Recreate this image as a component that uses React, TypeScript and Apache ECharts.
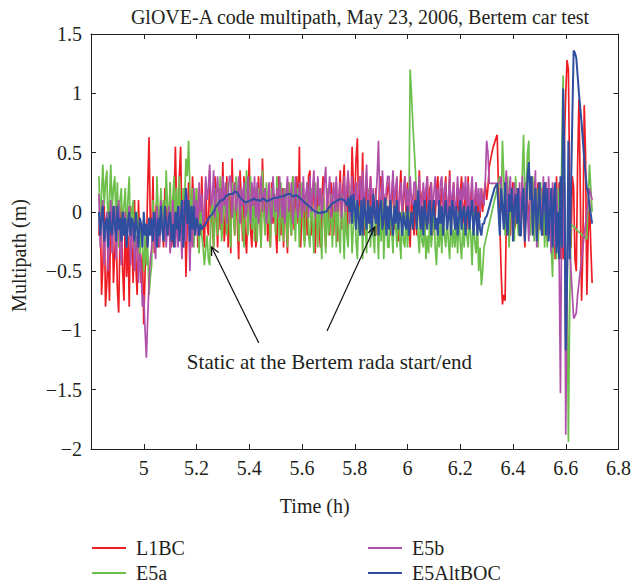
import React, { useEffect, useRef } from 'react';
import * as echarts from 'echarts';

const FONT = 'Liberation Serif, DejaVu Serif, serif';
const INK = '#231f20';

const TITLE = 'GlOVE-A code multipath, May 23, 2006, Bertem car test';
const X_NAME = 'Time (h)';
const Y_NAME = 'Multipath (m)';
const NOTE = 'Static at the Bertem rada start/end';

const SERIES_NAMES = ['L1BC', 'E5a', 'E5b', 'E5AltBOC'];
const SERIES_COLORS = ['#ee1d24', '#6cbf4a', '#b04fa9', '#2f4ea0'];
const SERIES_WIDTHS = [1.7, 1.7, 1.7, 2];

// sampling of the time axis (hours): 4.830, 4.835, ... 6.700
const T_START = 4.83;
const T_STEP = 0.005;

const l1bc = [
  -0.2, 0.1, -0.7, -0.45, 0.05, -0.8, -0.6, -0.3, -0.75, 0.0,
  0.1, -0.6, -0.35, -0.1, -0.65, -0.85, -0.2, 0.05, -0.5, -0.75,
  0.0, -0.55, -0.2, -0.8, 0.05, -0.3, -0.6, 0.1, -0.45, -0.7,
  0.1, -0.25, -0.6, -0.35, -0.95, -0.5, -0.3, 0.2, 0.63, -0.1,
  -0.2, 0.3, -0.35, 0.0, 0.1, -0.3, -0.25, 0.15, -0.1, -0.3,
  0.2, -0.15, 0.05, -0.2, 0.25, -0.3, -0.2, 0.1, 0.55, 0.0,
  -0.1, 0.3, 0.55, -0.2, -0.3, 0.2, -0.55, -0.1, 0.25, -0.35,
  -0.2, 0.3, 0.0, -0.15, 0.2, -0.3, 0.1, -0.2, 0.3, -0.1,
  -0.3, 0.25, -0.1, -0.2, 0.35, 0.0, -0.1, -0.3, 0.3, 0.1,
  -0.3, 0.2, -0.15, 0.05, 0.42, -0.25, -0.1, 0.3, -0.3, 0.15,
  -0.35, 0.45, 0.0, -0.2, 0.25, -0.1, -0.4, 0.35, 0.1, -0.25,
  0.3, -0.2, -0.35, 0.1, 0.45, -0.15, -0.3, 0.2, 0.05, -0.3,
  -0.2, 0.3, 0.0, -0.3, 0.45, 0.1, -0.1, 0.2, -0.25, 0.0,
  -0.3, 0.25, -0.1, 0.15, -0.15, -0.35, 0.3, 0.0, -0.2, 0.2,
  -0.3, 0.2, -0.1, -0.35, 0.25, 0.05, -0.2, 0.3, -0.15, 0.1,
  0.3, -0.1, 0.55, -0.3, 0.0, 0.2, -0.25, 0.1, -0.2, 0.3,
  0.35, -0.2, 0.1, 0.3, -0.35, 0.0, 0.25, -0.15, -0.3, 0.1,
  0.3, -0.1, -0.3, 0.2, 0.0, -0.2, 0.25, 0.1, -0.2, 0.15,
  0.25, -0.25, 0.1, 0.35, -0.15, 0.2, 0.4, -0.1, -0.2, 0.3,
  0.15, -0.05, 0.55, 0.2, 0.1, 0.45, 0.62, -0.1, 0.3, 0.0,
  0.5, -0.2, 0.1, 0.25, -0.1, 0.0, 0.3, -0.15, 0.1, -0.05,
  0.2, -0.2, 0.0, 0.25, 0.3, -0.1, 0.15, -0.15, 0.1, 0.2,
  0.25, -0.2, 0.1, 0.3, -0.15, 0.0, 0.2, -0.25, 0.15, 0.35,
  -0.1, 0.1, 0.3, -0.05, 0.25, 0.0, -0.3, 0.15, 0.05, -0.2,
  0.2, -0.2, 0.05, 0.35, -0.1, 0.15, 0.2, -0.15, 0.0, 0.3,
  -0.1, 0.2, 0.25, -0.2, 0.1, -0.05, 0.2, 0.3, -0.1, 0.1,
  0.2, -0.15, 0.1, 0.3, -0.1, 0.05, 0.35, -0.2, 0.1, 0.25,
  -0.15, 0.0, 0.2, -0.1, 0.15, 0.3, -0.1, 0.05, 0.2, -0.15,
  0.3, -0.15, 0.1, 0.2, -0.2, 0.05, 0.25, -0.1, 0.15, -0.05,
  0.2, 0.0, 0.15, 0.25, 0.1, 0.2, 0.38, 0.44, 0.5, 0.55,
  0.58, 0.62, 0.65, 0.2, -0.1, -0.5, -0.78, -0.7, -0.75, 0.0,
  0.2, -0.1, -0.2, 0.15, 0.25, -0.15, -0.1, 0.1, 0.2, -0.1,
  -0.15, 0.25, 0.0, -0.3, 0.2, 0.05, -0.1, 0.3, 0.1, -0.2,
  0.25, -0.05, 0.1, 0.25, -0.15, 0.0, 0.2, -0.2, 0.1, 0.25,
  -0.25, 0.15, -0.05, -0.3, 0.2, 0.0, -0.4, 0.3, -0.2, 0.25,
  -0.4, 0.1, -0.4, 0.6, 1.0, 1.28, 1.2, 0.2, -0.3, 0.3,
  0.2, -0.4, -0.5, 0.4, 0.95, 0.2, -0.75, -0.3, 0.9, 0.5,
  -0.7, -0.2, 0.1, -0.3, -0.6,
];

const e5a = [
  0.3, -0.1, 0.15, 0.4, 0.05, 0.25, 0.35, -0.2, 0.1, 0.4,
  0.0, 0.2, 0.3, -0.1, 0.25, -0.3, 0.1, 0.2, -0.2, 0.05,
  0.2, -0.25, 0.1, 0.3, -0.3, 0.0, 0.1, -0.35, -0.1, 0.0,
  -0.2, -0.4, -0.1, -0.3, -0.5, -0.2, -0.45, -0.3, -0.7, -0.55,
  -0.45, 0.1, -0.2, -0.3, 0.3, 0.0, -0.2, 0.2, -0.1, 0.1,
  -0.25, 0.35, 0.05, -0.1, 0.25, -0.2, 0.1, 0.3, -0.15, 0.2,
  -0.2, 0.3, 0.0, -0.1, 0.2, 0.1, 0.45, 0.3, 0.6, 0.2,
  -0.1, 0.2, -0.3, 0.0, 0.2, -0.1, -0.35, 0.1, -0.2, -0.3,
  -0.45, -0.3, -0.2, -0.4, -0.45, 0.0, 0.1, -0.3, -0.1, 0.2,
  -0.2, 0.05, 0.3, -0.25, -0.1, 0.2, 0.0, -0.2, 0.25, -0.1,
  -0.3, 0.25, 0.0, -0.2, 0.3, 0.1, -0.25, -0.05, 0.2, -0.1,
  -0.3, 0.15, 0.35, -0.2, 0.0, 0.3, -0.15, 0.1, -0.25, 0.2,
  -0.25, 0.2, -0.05, -0.3, 0.35, 0.0, -0.2, 0.25, -0.1, 0.1,
  -0.3, 0.2, -0.05, 0.15, -0.2, 0.3, 0.0, -0.25, 0.25, -0.1,
  -0.25, 0.2, 0.0, -0.3, 0.25, -0.1, -0.2, 0.3, 0.05, -0.25,
  0.1, 0.2, -0.3, 0.0, 0.25, -0.15, -0.3, 0.1, 0.25, -0.2,
  -0.3, 0.2, -0.1, -0.35, 0.25, 0.0, -0.3, 0.2, -0.15, -0.4,
  0.15, 0.0, -0.35, 0.2, -0.2, -0.1, 0.15, -0.3, -0.05, 0.2,
  -0.3, 0.1, -0.15, -0.35, 0.15, -0.05, -0.4, 0.1, -0.2, -0.3,
  0.2, 0.0, -0.35, -0.1, 0.1, -0.25, -0.4, 0.05, -0.2, 0.1,
  -0.4, 0.15, -0.1, -0.35, 0.2, -0.05, -0.3, 0.1, -0.2, -0.35,
  0.15, -0.1, -0.4, 0.05, -0.25, 0.1, -0.4, -0.1, 0.1, -0.3,
  -0.3, 0.1, -0.15, -0.35, 0.15, -0.1, -0.3, 0.1, -0.2, -0.4,
  0.05, -0.25, -0.3, 0.0, -0.3, -0.1, 1.2, 1.0, 0.75, 0.55,
  0.35, 0.1, -0.2, -0.35, 0.0, -0.25, -0.3, -0.05, -0.4, -0.2,
  -0.35, 0.0, -0.3, -0.15, 0.05, -0.3, -0.45, -0.1, -0.3, -0.05,
  -0.35, 0.0, -0.2, -0.3, -0.05, -0.25, -0.4, 0.05, -0.3, -0.15,
  -0.3, -0.05, -0.35, 0.0, -0.25, -0.4, -0.1, -0.3, 0.0, -0.2,
  -0.3, -0.05, -0.2, -0.45, 0.0, -0.25, -0.35, -0.1, -0.5, -0.3,
  -0.62, -0.5, -0.3, -0.25, -0.2, -0.15, -0.1, -0.05, 0.0, 0.05,
  0.1, 0.15, 0.2, 0.25, 0.3, 0.0, 0.6, 0.3, -0.2, 0.1,
  0.3, -0.3, 0.0, 0.2, -0.1, -0.25, 0.3, 0.0, -0.2, 0.15,
  -0.2, 0.3, 0.65, 0.1, 0.2, 0.5, 0.6, -0.2, 0.0, 0.3,
  -0.25, 0.1, 0.2, -0.3, 0.0, 0.25, -0.2, 0.1, -0.3, 0.2,
  -0.3, 0.2, 0.0, -0.3, -0.55, 0.1, -0.2, -0.4, 0.2, 0.0,
  -0.3, 0.5, 1.15, 0.2, -1.0, -0.5, -1.94, -0.8, -0.1, -0.12,
  -0.12, -0.13, -0.15, -0.16, -0.17, -0.18, -0.19, -0.2, -0.21, -0.22,
  -0.23, 0.1, 0.4, 0.2, 0.0,
];

const e5b = [
  0.15, -0.3, 0.0, 0.1, -0.45, -0.1, 0.0, -0.5, -0.2, 0.1,
  -0.35, 0.0, 0.05, -0.4, -0.15, 0.1, -0.3, -0.45, 0.0, -0.2,
  0.0, -0.3, -0.1, 0.05, -0.45, -0.2, -0.1, -0.5, -0.3, -0.2,
  -0.6, -0.35, -0.5, -0.8, -0.7, -1.0, -1.23, -0.9, -0.6, -0.4,
  -0.3, 0.0, -0.2, -0.4, 0.05, -0.15, -0.3, 0.1, -0.1, -0.25,
  0.0, -0.3, -0.1, 0.05, -0.35, -0.2, 0.1, -0.1, -0.3, 0.0,
  -0.3, 0.05, -0.15, -0.4, 0.1, -0.1, -0.25, 0.15, -0.05, -0.5,
  0.0, -0.3, 0.2, -0.1, 0.1, -0.2, 0.25, 0.0, 0.15, -0.1,
  -0.05, 0.3, 0.1, 0.2, 0.4, 0.05, 0.1, 0.35, -0.05, 0.15,
  0.3, 0.0, 0.2, -0.1, 0.3, 0.05, 0.25, -0.1, 0.15, 0.3,
  0.3, -0.05, 0.15, 0.25, 0.0, 0.1, 0.3, -0.1, 0.2, 0.05,
  0.25, -0.05, 0.0, 0.3, 0.1, -0.1, 0.25, 0.05, 0.3, -0.05,
  0.25, -0.1, 0.1, 0.3, 0.0, 0.15, 0.2, -0.1, 0.05, 0.25,
  0.0, -0.1, 0.3, 0.1, 0.0, 0.2, -0.05, 0.3, 0.1, -0.05,
  0.2, -0.1, 0.15, 0.3, 0.0, 0.1, 0.25, -0.1, 0.05, 0.3,
  0.05, -0.05, 0.25, 0.1, -0.05, 0.3, 0.0, 0.15, 0.25, -0.05,
  0.3, 0.0, 0.15, 0.35, -0.05, 0.1, 0.3, 0.05, 0.2, -0.05,
  0.1, 0.25, 0.38, 0.0, 0.15, 0.3, -0.05, 0.1, 0.25, 0.0,
  0.3, 0.0, 0.15, 0.25, -0.05, 0.1, 0.3, 0.0, 0.2, 0.35,
  -0.1, 0.1, 0.3, 0.0, 0.15, 0.25, -0.05, 0.2, 0.3, 0.05,
  0.35, -0.05, 0.2, 0.4, 0.0, 0.15, 0.3, 0.05, 0.2, -0.05,
  0.1, 0.3, 0.6, 0.1, 0.0, 0.35, 0.1, -0.05, 0.2, 0.3,
  0.3, 0.0, 0.15, 0.35, 0.05, 0.2, 0.3, -0.05, 0.1, 0.25,
  0.0, 0.15, 0.3, 0.05, 0.2, 0.0, 0.3, 0.1, 0.05, 0.25,
  0.25, 0.0, 0.15, 0.3, -0.05, 0.1, 0.25, 0.05, 0.2, 0.3,
  -0.1, 0.1, 0.25, 0.0, 0.15, 0.3, 0.05, 0.2, 0.0, 0.25,
  0.3, 0.0, 0.2, 0.25, -0.05, 0.1, 0.3, 0.0, 0.15, 0.25,
  -0.05, 0.1, 0.3, 0.05, 0.2, 0.0, 0.25, 0.1, 0.3, 0.0,
  0.25, -0.05, 0.15, 0.3, 0.0, 0.1, 0.25, 0.05, 0.2, 0.0,
  0.2, 0.1, 0.05, 0.25, 0.6, 0.5, 0.24, 0.24, 0.24, 0.24,
  0.24, 0.24, 0.24, 0.24, 0.24, 0.3, 0.0, -0.1, 0.2, 0.35,
  -0.05, 0.15, 0.3, 0.0, 0.1, 0.25, -0.05, 0.2, 0.0, 0.25,
  -0.1, 0.3, 0.1, -0.15, 0.25, 0.0, -0.25, 0.2, 0.3, -0.1,
  0.1, 0.35, -0.3, 0.0, 0.25, 0.1, -0.2, 0.3, 0.0, 0.25,
  -0.2, 0.3, 0.0, -0.35, 0.25, 0.1, -0.3, 0.2, -0.1, -0.4,
  -1.53, 0.2, -0.3, 0.25, -1.88, -0.6, 0.0, -0.3, -0.5, -0.7,
  -0.9, -0.88, -0.85, -0.7, -0.6, -0.5, -0.4, -0.3, -0.2, -0.1,
  0.0, 0.1, 0.2, 0.15, 0.1,
];

const e5altboc = [
  0.0, -0.2, -0.05, 0.05, -0.25, -0.1, -0.05, -0.3, 0.0, -0.15,
  -0.2, 0.05, -0.1, -0.25, 0.05, -0.15, -0.05, -0.25, 0.0, -0.2,
  -0.05, -0.3, -0.1, 0.0, -0.2, -0.05, -0.1, -0.25, 0.0, -0.15,
  -0.3, -0.05, -0.1, -0.3, 0.0, -0.2, -0.1, -0.3, -0.05, -0.2,
  -0.05, -0.25, 0.0, -0.1, -0.3, -0.05, -0.2, 0.05, -0.15, -0.25,
  0.05, -0.1, -0.2, -0.05, 0.0, -0.25, -0.1, -0.3, 0.0, -0.15,
  0.05, -0.25, -0.05, 0.1, -0.3, 0.0, 0.2, -0.1, 0.1, -0.25,
  0.05, -0.15, 0.05, -0.2, -0.05, -0.1, -0.2, -0.1, -0.15, -0.12,
  -0.12, -0.1, -0.08, -0.06, -0.04, -0.03, -0.02, 0.0, 0.03, 0.05,
  0.06, 0.08, 0.09, 0.1, 0.1, 0.11, 0.13, 0.14, 0.14, 0.15,
  0.15, 0.15, 0.16, 0.17, 0.17, 0.16, 0.14, 0.12, 0.11, 0.1,
  0.09, 0.08, 0.08, 0.09, 0.09, 0.1, 0.1, 0.11, 0.11, 0.1,
  0.1, 0.1, 0.09, 0.1, 0.11, 0.11, 0.1, 0.09, 0.09, 0.1,
  0.1, 0.11, 0.11, 0.12, 0.12, 0.12, 0.12, 0.13, 0.13, 0.13,
  0.13, 0.14, 0.14, 0.15, 0.15, 0.15, 0.14, 0.13, 0.13, 0.14,
  0.14, 0.13, 0.12, 0.11, 0.1, 0.09, 0.08, 0.07, 0.06, 0.05,
  0.04, 0.03, 0.02, 0.01, 0.0, 0.0, -0.01, -0.01, -0.01, 0.0,
  -0.01, 0.0, 0.0, 0.01, 0.03, 0.04, 0.06, 0.07, 0.08, 0.08,
  0.09, 0.1, 0.1, 0.11, 0.11, 0.1, 0.1, 0.08, 0.05, 0.12,
  0.0, 0.14, -0.1, 0.15, 0.05, -0.15, 0.1, -0.05, -0.2, 0.1,
  -0.2, 0.12, 0.0, -0.15, 0.1, -0.1, 0.05, -0.2, 0.15, 0.0,
  -0.1, 0.1, -0.2, 0.05, 0.1, -0.15, -0.05, 0.12, -0.2, 0.05,
  -0.15, 0.1, -0.05, -0.2, 0.05, -0.1, 0.1, -0.15, 0.0, -0.05,
  -0.2, 0.0, -0.1, -0.15, 0.05, -0.2, -0.1, 0.0, -0.15, 0.05,
  0.1, -0.15, 0.18, 0.0, -0.15, 0.05, -0.2, 0.1, -0.05, -0.15,
  0.05, 0.1, -0.2, 0.0, 0.1, -0.15, -0.05, -0.2, 0.1, -0.1,
  0.05, -0.2, 0.0, 0.1, -0.15, -0.05, 0.05, -0.2, 0.1, 0.0,
  -0.15, 0.05, -0.2, -0.05, 0.1, -0.15, 0.0, 0.05, -0.2, 0.0,
  0.05, -0.15, 0.0, 0.1, -0.2, -0.05, 0.05, -0.2, 0.0, -0.15,
  -0.2, -0.1, -0.1, -0.05, -0.04, 0.0, 0.04, 0.08, 0.12, 0.16,
  0.2, 0.22, 0.24, 0.0, -0.2, 0.2, 0.05, -0.15, 0.25, -0.1,
  -0.2, 0.15, 0.0, 0.2, -0.25, 0.05, 0.15, -0.1, 0.2, -0.2,
  -0.2, 0.1, 0.2, -0.25, 0.0, 0.3, 0.42, 0.1, 0.3, -0.2,
  0.05, 0.2, -0.25, 0.0, 0.25, -0.1, -0.2, 0.15, 0.25, -0.2,
  0.2, -0.25, 0.0, 0.2, -0.3, 0.1, 0.25, -0.35, 0.0, -0.4,
  0.3, -0.3, 1.04, 0.5, -1.17, -0.6, 0.6, -0.4, 0.2, 0.8,
  1.36, 1.34, 1.3, 1.15, 1.0, 0.88, 0.75, 0.6, 0.45, 0.32,
  0.2, 0.16, 0.05, -0.02, -0.1,
];

const SERIES_VALUES = [l1bc, e5a, e5b, e5altboc];

// annotation anchor points, in data coordinates [hours, metres]
const NOTE_AT = [5.704, -1.266];
const ARROWS = [
  { from: [5.436, -1.105], to: [5.257, -0.296] },
  { from: [5.695, -1.004], to: [5.876, -0.128] },
];

const X_MIN = 4.8, X_MAX = 6.8, X_STEP = 0.2;
const Y_MIN = -2, Y_MAX = 1.5, Y_STEP = 0.5;

const times = l1bc.map((_, i) => Math.round((T_START + i * T_STEP) * 1000) / 1000);

function fmtY(v: number) {
  const s = String(Math.abs(v));
  return v < 0 ? '\u2212' + s : s;
}

function arrowEls(chart: any, from: number[], to: number[]) {
  const a = chart.convertToPixel({ gridIndex: 0 }, from);
  const b = chart.convertToPixel({ gridIndex: 0 }, to);
  const dx = a[0] - b[0];
  const dy = a[1] - b[1];
  const L = Math.hypot(dx, dy);
  const ux = dx / L, uy = dy / L;
  const len = 9, c = Math.cos(0.44), s = Math.sin(0.44);
  const p1 = [b[0] + len * (ux * c - uy * s), b[1] + len * (ux * s + uy * c)];
  const p2 = [b[0] + len * (ux * c + uy * s), b[1] + len * (-ux * s + uy * c)];
  return [
    { type: 'line', z: 100, shape: { x1: a[0], y1: a[1], x2: b[0], y2: b[1] }, style: { stroke: '#111', lineWidth: 1.2 } },
    { type: 'polyline', z: 100, shape: { points: [p1, b, p2] }, style: { stroke: '#111', fill: null, lineWidth: 1.2 } },
  ];
}

export default function App() {
  const ref = useRef<HTMLDivElement>(null);
  useEffect(() => {
    if (!ref.current) return;
    const chart = echarts.init(ref.current, undefined, { renderer: 'svg' });
    const text = { fontFamily: FONT, fontSize: 20, color: INK };
    const legendBase = {
      orient: 'vertical',
      top: 538,
      icon: 'rect',
      itemWidth: 34,
      itemHeight: 2,
      itemGap: 5,
      padding: 0,
      textStyle: { ...text, lineHeight: 20, padding: [0, 0, 0, 5] },
    };
    const axisLine = { show: true, onZero: false, lineStyle: { color: INK, width: 1 } };
    const axisTick = { show: true, inside: true, length: 5, lineStyle: { color: INK, width: 1 } };
    const option: any = {
      animation: false,
      backgroundColor: '#fff',
      title: {
        text: TITLE,
        left: 355,
        top: 2,
        textAlign: 'center',
        textStyle: { ...text, fontWeight: 'normal' },
      },
      grid: { left: 91, right: 14, top: 34, bottom: 138 },
      legend: [
        { ...legendBase, left: 92, data: SERIES_NAMES.slice(0, 2) },
        { ...legendBase, left: 368, data: SERIES_NAMES.slice(2, 4) },
      ],
      xAxis: [
        {
          type: 'value', min: X_MIN, max: X_MAX, interval: X_STEP, position: 'bottom',
          axisLine, axisTick, splitLine: { show: false },
          axisLabel: {
            ...text, margin: 9,
            formatter: (v: number) => (Math.abs(v - X_MIN) < 1e-6 ? '' : String(Math.round(v * 10) / 10)),
          },
          name: X_NAME, nameLocation: 'middle', nameGap: 47,
          nameTextStyle: { ...text, padding: [0, 80, 0, 0] },
        },
        {
          type: 'value', min: X_MIN, max: X_MAX, interval: X_STEP, position: 'top',
          axisLine, axisTick, splitLine: { show: false }, axisLabel: { show: false },
        },
      ],
      yAxis: [
        {
          type: 'value', min: Y_MIN, max: Y_MAX, interval: Y_STEP, position: 'left',
          axisLine, axisTick, splitLine: { show: false },
          axisLabel: { ...text, margin: 9, formatter: fmtY },
          name: Y_NAME, nameLocation: 'middle', nameGap: 62,
          nameTextStyle: { ...text, padding: [0, 28, 0, 0] },
        },
        {
          type: 'value', min: Y_MIN, max: Y_MAX, interval: Y_STEP, position: 'right',
          axisLine, axisTick, splitLine: { show: false }, axisLabel: { show: false },
        },
      ],
      series: SERIES_NAMES.map((name, k) => ({
        name,
        type: 'line',
        xAxisIndex: 0,
        yAxisIndex: 0,
        symbol: 'none',
        showSymbol: false,
        clip: true,
        lineStyle: { width: SERIES_WIDTHS[k], color: SERIES_COLORS[k] },
        itemStyle: { color: SERIES_COLORS[k] },
        data: times.map((t, i) => [t, SERIES_VALUES[k][i]]),
      })),
    };
    chart.setOption(option);
    const notePx = chart.convertToPixel({ gridIndex: 0 }, NOTE_AT) as number[];
    const graphics: any[] = [];
    ARROWS.forEach((a) => graphics.push(...arrowEls(chart, a.from, a.to)));
    graphics.push({
      type: 'text', z: 100, x: notePx[0], y: notePx[1],
      style: { text: NOTE, fontFamily: FONT, fontSize: 21, fill: INK, align: 'center', verticalAlign: 'middle' },
    });
    chart.setOption({ graphic: graphics });
    return () => chart.dispose();
  }, []);
  return <div ref={ref} style={{ position: 'fixed', left: 0, top: 0, width: 634, height: 587 }} />;
}
